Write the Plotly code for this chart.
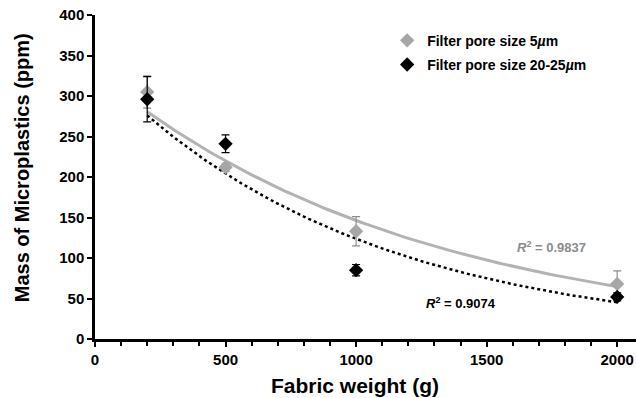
import numpy as np
import plotly.graph_objects as go

fabric_weight = [200, 500, 1000, 2000]
mass_5um = [305, 212, 133, 68]
err_5um = [20, 5, 18, 16]
mass_20um = [296, 241, 85, 52]
err_20um = [28, 11, 7, 5]
series_names = ["Filter pore size 5<i>µ</i>m", "Filter pore size 20-25<i>µ</i>m"]
r2_labels = ["0.9837", "0.9074"]

GREY = "#a6a6a6"
FONT = "Arial, Liberation Sans, sans-serif"


def exp_trend(x, y):
    x = np.asarray(x, float)
    ly = np.log(np.asarray(y, float))
    b, a = np.polyfit(x, ly, 1)
    xs = np.linspace(x.min(), x.max(), 100)
    return xs, np.exp(a + b * xs)


fig = go.Figure()

xs1, ys1 = exp_trend(fabric_weight, mass_5um)
xs2, ys2 = exp_trend(fabric_weight, mass_20um)

fig.add_trace(go.Scatter(x=xs1, y=ys1, mode="lines", line=dict(color="#b3b3b3", width=3),
                         showlegend=False, hoverinfo="skip"))
fig.add_trace(go.Scatter(x=xs2, y=ys2, mode="lines", line=dict(color="black", width=2.5, dash="dot"),
                         showlegend=False, hoverinfo="skip"))

fig.add_trace(go.Scatter(
    x=fabric_weight, y=mass_5um, mode="markers", name=series_names[0], legendgroup="a",
    marker=dict(symbol="diamond", size=11, color=GREY),
    error_y=dict(type="data", array=err_5um, color="#8c8c8c", thickness=1.2, width=4)))
fig.add_trace(go.Scatter(
    x=fabric_weight, y=mass_20um, mode="markers", name=series_names[1], legendgroup="b",
    marker=dict(symbol="diamond", size=11, color="black"),
    error_y=dict(type="data", array=err_20um, color="black", thickness=1.2, width=4)))

fig.update_layout(
    width=636, height=398,
    margin=dict(l=95, r=0, t=15, b=59, autoexpand=False),
    plot_bgcolor="white", paper_bgcolor="white",
    font=dict(family=FONT, color="black"),
    showlegend=True,
    legend=dict(x=0.54, y=0.97, xanchor="left", yanchor="top",
                font=dict(size=14, family=FONT, color="black", weight="bold"),
                bgcolor="rgba(0,0,0,0)", itemwidth=30, tracegroupgap=3),
    xaxis=dict(range=[0, 2072], showgrid=False, zeroline=False, automargin=False,
               showline=True, linecolor="black", linewidth=2.5,
               tickmode="linear", tick0=0, dtick=500,
               ticks="outside", ticklen=5, tickwidth=2, tickcolor="black",
               tickfont=dict(size=15, family=FONT, weight="bold"),
               minor=dict(dtick=100, ticks="outside", ticklen=4, tickwidth=2, tickcolor="black")),
    yaxis=dict(range=[0, 400], showgrid=False, zeroline=False, automargin=False,
               showline=True, linecolor="black", linewidth=2.5,
               tickmode="linear", tick0=0, dtick=50,
               ticks="outside", ticklen=5, tickwidth=2, tickcolor="black",
               tickfont=dict(size=15, family=FONT, weight="bold")),
    annotations=[
        dict(text="Mass of Microplastics (ppm)", xref="paper", yref="paper",
             x=-0.135, y=0.53, xanchor="center", yanchor="middle", textangle=-90,
             showarrow=False, font=dict(size=20, family=FONT, weight="bold")),
        dict(text="Fabric weight (g)", xref="paper", yref="paper",
             x=0.48, y=-0.145, xanchor="center", yanchor="middle",
             showarrow=False, font=dict(size=21, family=FONT, weight="bold")),
        dict(text="<i>R</i><sup>2</sup> = " + r2_labels[0], x=1750, y=113,
             xref="x", yref="y", showarrow=False,
             font=dict(size=13, family=FONT, color="#8c8c8c", weight="bold")),
        dict(text="<i>R</i><sup>2</sup> = " + r2_labels[1], x=1402, y=44,
             xref="x", yref="y", showarrow=False,
             font=dict(size=13, family=FONT, color="black", weight="bold")),
    ],
)

fig.write_html("out.html", config={"displayModeBar": False},
               post_script="document.body.style.margin='0px';")
